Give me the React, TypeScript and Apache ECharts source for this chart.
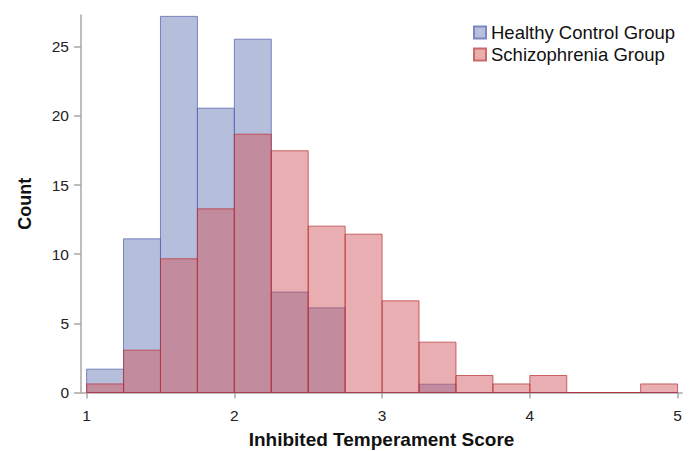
import React, { useEffect, useRef } from "react";
import * as echarts from "echarts";

const binStarts = [1, 1.25, 1.5, 1.75, 2, 2.25, 2.5, 2.75, 3, 3.25, 3.5, 3.75, 4, 4.25, 4.5, 4.75];
const binEnds = [1.25, 1.5, 1.75, 2, 2.25, 2.5, 2.75, 3, 3.25, 3.5, 3.75, 4, 4.25, 4.5, 4.75, 5];
const healthyCounts = [1.69, 11.11, 27.2, 20.56, 25.55, 7.26, 6.12, 0, 0, 0.6, 0, 0, 0, 0, 0, 0];
const schizoCounts = [0.62, 3.06, 9.67, 13.28, 18.68, 17.48, 12.03, 11.45, 6.63, 3.64, 1.23, 0.62, 1.23, 0, 0, 0.62];
const xTicks = [1, 2, 3, 4, 5];
const yTicks = [0, 5, 10, 15, 20, 25];
const seriesNames = ["Healthy Control Group", "Schizophrenia Group"];

const FONT = "'Liberation Sans', Arial, sans-serif";

function makeSeries(name: string, counts: number[], fill: string, stroke: string, legendFill: string, legendStroke: string) {
  return {
    type: "custom",
    name,
    itemStyle: { color: legendFill, borderColor: legendStroke, borderWidth: 1 },
    data: binStarts.map((s, i) => [s, binEnds[i], counts[i]]),
    encode: { x: [0, 1], y: 2 },
    renderItem: (params: any, api: any) => {
      const x0 = api.value(0);
      const x1 = api.value(1);
      const v = api.value(2);
      const p0 = api.coord([x0, v]);
      const p1 = api.coord([x1, 0]);
      return {
        type: "rect",
        shape: { x: p0[0], y: p0[1], width: p1[0] - p0[0], height: p1[1] - p0[1] },
        style: { fill, stroke, lineWidth: 1 },
      };
    },
  };
}

export default function App() {
  const ref = useRef<HTMLDivElement>(null);
  useEffect(() => {
    if (!ref.current) return;
    const chart = echarts.init(ref.current, null, { renderer: "svg" });
    chart.setOption({
      animation: false,
      backgroundColor: "#ffffff",
      grid: { left: 81, right: 10, top: 15, bottom: 58.5, containLabel: false, outerBoundsMode: "none" },
      legend: {
        orient: "vertical",
        left: 468,
        top: 18,
        itemWidth: 12,
        itemHeight: 12,
        itemGap: 3,
        icon: "rect",
        textStyle: { fontFamily: FONT, fontSize: 18.5, color: "#111" },
        data: seriesNames,
      },
      xAxis: {
        type: "value",
        min: 0.962,
        max: 5.03,
        name: "Inhibited Temperament Score",
        nameLocation: "middle",
        nameGap: 37,
        nameTextStyle: { fontFamily: FONT, fontSize: 19, fontWeight: "bold", color: "#111" },
        axisLine: { show: true, onZero: false, lineStyle: { color: "#a8a8a8", width: 1.5 } },
        axisTick: { show: true, length: 6, customValues: xTicks, lineStyle: { color: "#a8a8a8", width: 1.5 } },
        axisLabel: { customValues: xTicks, margin: 14.5, fontFamily: FONT, fontSize: 15.5, color: "#222" },
        splitLine: { show: false },
      },
      yAxis: {
        type: "value",
        min: 0,
        max: 27.3,
        name: "Count",
        nameLocation: "middle",
        nameGap: 47,
        nameTextStyle: { fontFamily: FONT, fontSize: 18, fontWeight: "bold", color: "#111" },
        axisLine: { show: true, lineStyle: { color: "#a8a8a8", width: 1.5 } },
        axisTick: { show: true, length: 7, customValues: yTicks, lineStyle: { color: "#a8a8a8", width: 1.5 } },
        axisLabel: { customValues: yTicks, margin: 12, fontFamily: FONT, fontSize: 15.5, color: "#222" },
        splitLine: { show: false },
      },
      series: [
        makeSeries(seriesNames[0], healthyCounts, "rgba(108,126,183,0.5)", "rgba(85,100,175,0.75)", "#b6bfdb", "#7b88c0"),
        makeSeries(seriesNames[1], schizoCounts, "rgba(208,86,92,0.48)", "rgba(185,45,50,0.7)", "#e8adad", "#cc6a6a"),
      ],
    });
    return () => chart.dispose();
  }, []);
  return <div ref={ref} style={{ width: 692, height: 451, position: "absolute", left: 0, top: 0 }} />;
}
